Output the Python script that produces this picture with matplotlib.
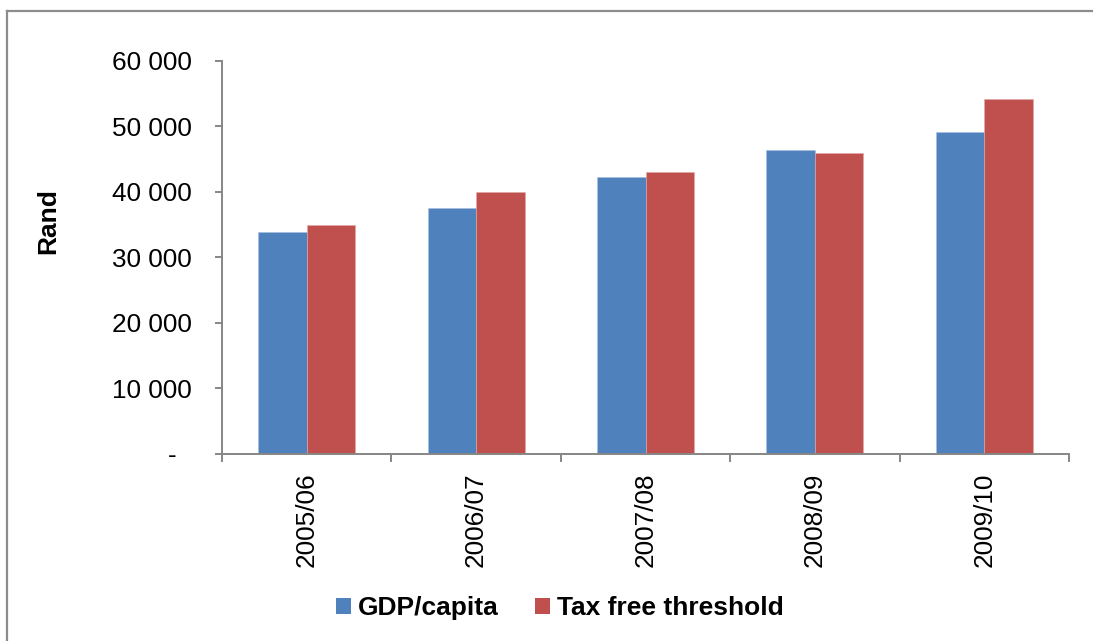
import matplotlib
matplotlib.use("Agg")
import matplotlib.pyplot as plt
from matplotlib.ticker import FixedLocator, FuncFormatter
from matplotlib.patches import Patch
from matplotlib.lines import Line2D
from matplotlib.transforms import ScaledTranslation
import numpy as np

years = ["2005/06", "2006/07", "2007/08", "2008/09", "2009/10"]
gdp_per_capita = [33800, 37600, 42300, 46400, 49100]
tax_free_threshold = [35000, 40000, 43000, 46000, 54200]
series_names = ["GDP/capita", "Tax free threshold"]
y_ticks = [0, 10000, 20000, 30000, 40000, 50000, 60000]

BLUE = "#4F81BD"
RED = "#C0504D"
GREY = "#868686"

plt.rcParams["font.family"] = ["Liberation Sans", "DejaVu Sans"]

W, H = 1093, 641
fig = plt.figure(figsize=(W / 100, H / 100), dpi=100)

def px(x, y):
    return x / W, 1 - y / H

left, right, top, bottom = 222, 1069, 61, 453.5
ax = fig.add_axes([left / W, 1 - bottom / H, (right - left) / W, (bottom - top) / H])

x = np.arange(len(years))
bw = 0.286
ax.bar(x - bw, gdp_per_capita, width=bw, align="edge", color=BLUE,
       edgecolor="#A9C0E0", linewidth=0.4)
ax.bar(x, tax_free_threshold, width=bw, align="edge", color=RED,
       edgecolor="#E0A9A8", linewidth=0.4)

ax.set_xlim(-0.5, len(years) - 0.5)
ax.set_ylim(0, 60000)

for s in ["top", "right"]:
    ax.spines[s].set_visible(False)
for s in ["left", "bottom"]:
    ax.spines[s].set_color(GREY)
    ax.spines[s].set_linewidth(1.4)

ax.yaxis.set_major_locator(FixedLocator(y_ticks))
ax.yaxis.set_major_formatter(FuncFormatter(
    lambda v, p: "-" if v == 0 else f"{int(v):,}".replace(",", " ")))
ax.tick_params(axis="y", direction="out", length=5, width=1.4, color=GREY,
               labelsize=18.8, pad=17)

ax.set_xticks(x)
ax.set_xticklabels(years, rotation=90, va="top", ha="center")
ax.set_xticks(np.arange(len(years) + 1) - 0.5, minor=True)
ax.tick_params(axis="x", which="major", length=0, labelsize=18.8, pad=13.5)
ax.tick_params(axis="x", which="minor", direction="out", length=6, width=1.4,
               color=GREY)

# shift the zero label "-" left, like an accounting number format
fig.canvas.draw()
for tick in ax.yaxis.get_major_ticks():
    if tick.get_loc() == 0:
        lab = tick.label1
        lab.set_transform(lab.get_transform()
                          + ScaledTranslation(-15 / 100, 0, fig.dpi_scale_trans))

fig.text(*px(48.5, 221), "Rand", rotation=90, fontsize=19, fontweight="bold",
         ha="center", va="center")

handles = [Patch(facecolor=BLUE, edgecolor="none"),
           Patch(facecolor=RED, edgecolor="none")]
fig.legend(handles, series_names, loc="center", bbox_to_anchor=px(560, 608),
           ncol=2, frameon=False, prop={"weight": "bold", "size": 19},
           handlelength=0.55, handleheight=0.55, handletextpad=0.27,
           columnspacing=1.4, borderaxespad=0, borderpad=0)

# outer frame (left and top edges visible)
fig.add_artist(Line2D([7 / W, 7 / W], [0, 1 - 10.5 / H], color="#8C8C8C",
                      linewidth=1.6, transform=fig.transFigure))
fig.add_artist(Line2D([7 / W, 1], [1 - 10.5 / H, 1 - 10.5 / H], color="#8C8C8C",
                      linewidth=1.6, transform=fig.transFigure))

fig.savefig("out.png", dpi=100, facecolor="white")
